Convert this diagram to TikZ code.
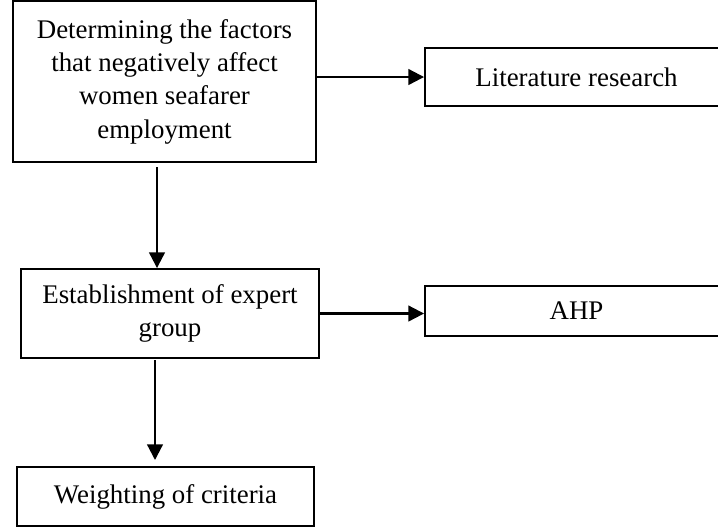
\documentclass[tikz,border=0pt]{standalone}
\usepackage{fontspec}
\setmainfont{Liberation Serif}
\usetikzlibrary{arrows.meta}

\tikzset{
    box/.style={draw, line width=0.8pt, inner sep=0pt, align=center,
        font=\fontsize{11.2}{13.9}\selectfont},
    arr/.style={line width=0.9pt, -{Triangle[length=6.5pt,width=6.5pt]}}
}

\begin{document}
\begin{tikzpicture}[x=0.4167pt, y=-0.4167pt]
        \useasboundingbox (0,0) rectangle (718,528);

        % Boxes
        \node at (164.5,81.5) [box, minimum width=303*0.4167pt, minimum height=161*0.4167pt] (F)
            {Determining the factors\\that negatively affect\\women seafarer\\employment};
        \node at (576.5,77) [box, minimum width=303*0.4167pt, minimum height=58*0.4167pt] (L)
            {Literature research};
        \node at (170,313.5) [box, minimum width=298*0.4167pt, minimum height=89*0.4167pt] (E)
            {Establishment of expert\\group};
        \node at (576.5,311) [box, minimum width=303*0.4167pt, minimum height=50*0.4167pt] (A)
            {AHP};
        \node at (165.5,496.5) [box, minimum width=297*0.4167pt, minimum height=59*0.4167pt] (W)
            {Weighting of criteria};

        % Arrow starts
        \coordinate (d1) at (157,167);
        \coordinate (d2) at (155,360);
        \coordinate (d3) at (155,460);

        % Arrows
        \draw[arr] (L.west -| F.east) -- (L.west);
        \draw[arr] (d1) -- (d1 |- E.north);
        \draw[arr] (E.east) -- (E.east -| A.west);
        \draw[arr] (d2) -- (d3);

    \end{tikzpicture}
\end{document}
